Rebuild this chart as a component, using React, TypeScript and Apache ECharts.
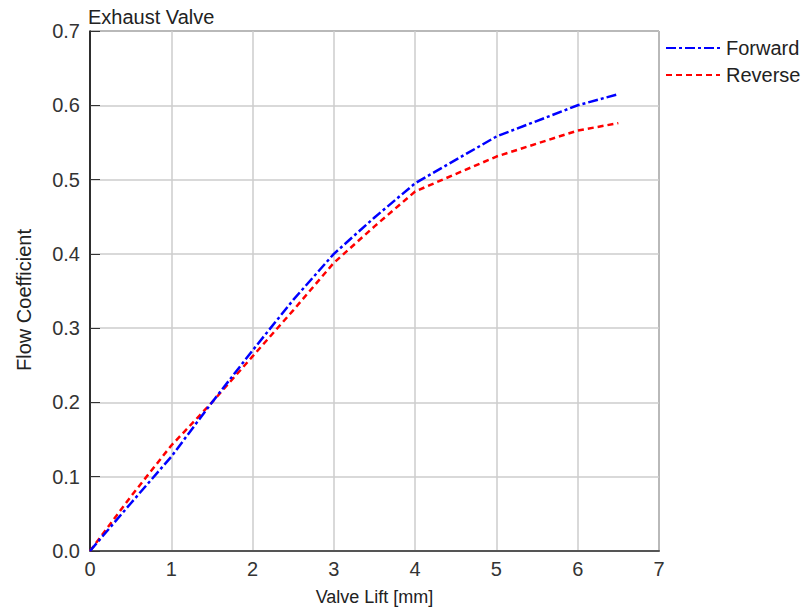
import React, { useEffect, useRef } from "react";
import * as echarts from "echarts";

// Valve lift sample positions [mm]
const liftMm = [0, 0.5, 1, 1.5, 2, 2.5, 3, 3.5, 4, 5, 6, 6.5];
// Flow coefficient, forward flow direction
const forwardCf = [0, 0.064, 0.127, 0.2, 0.27, 0.338, 0.4, 0.449, 0.495, 0.558, 0.6, 0.615];
// Flow coefficient, reverse flow direction
const reverseCf = [0, 0.073, 0.142, 0.2, 0.262, 0.324, 0.388, 0.437, 0.484, 0.531, 0.566, 0.576];

const seriesNames = ["Forward", "Reverse"];
const chartTitle = "Exhaust Valve";
const xAxisTitle = "Valve Lift [mm]";
const yAxisTitle = "Flow Coefficient";

const FONT = "'Liberation Sans', Arial, sans-serif";

export default function App() {
  const ref = useRef<HTMLDivElement>(null);

  useEffect(() => {
    if (!ref.current) return;
    const chart = echarts.init(ref.current, undefined, { renderer: "svg" });
    const pair = (ys: number[]) => liftMm.map((x, i) => [x, ys[i]]);

    chart.setOption({
      animation: false,
      backgroundColor: "#ffffff",
      textStyle: { fontFamily: FONT },
      title: {
        text: chartTitle,
        left: 88,
        top: 7,
        padding: 0,
        textStyle: { fontFamily: FONT, fontSize: 20, fontWeight: "normal", color: "#222" },
      },
      legend: {
        orient: "vertical",
        left: 665,
        top: 38,
        padding: 0,
        itemGap: 7,
        itemWidth: 54,
        itemHeight: 14,
        data: seriesNames,
        itemStyle: { opacity: 0 },
        textStyle: { fontFamily: FONT, fontSize: 20, color: "#222", padding: [0, 0, 0, 1] },
      },
      grid: {
        left: 90,
        right: 147,
        top: 31,
        bottom: 60,
        show: true,
        borderColor: "#000",
        borderWidth: 1,
      },
      xAxis: {
        type: "value",
        min: 0,
        max: 7,
        interval: 1,
        name: xAxisTitle,
        nameLocation: "middle",
        nameGap: 37,
        nameTextStyle: { fontFamily: FONT, fontSize: 18, color: "#222" },
        axisLine: { show: true, lineStyle: { color: "#555", width: 2 } },
        axisTick: { show: false },
        axisLabel: { fontFamily: FONT, fontSize: 20, color: "#333", margin: 8 },
        splitLine: { show: true, lineStyle: { color: "#cccccc", width: 1.5 } },
      },
      yAxis: {
        type: "value",
        min: 0,
        max: 0.7,
        interval: 0.1,
        name: yAxisTitle,
        nameLocation: "middle",
        nameRotate: 90,
        nameGap: 56,
        nameTextStyle: { fontFamily: FONT, fontSize: 20, color: "#222", padding: [0, 18, 0, 0] },
        axisLine: { show: true, lineStyle: { color: "#000", width: 1.5 } },
        axisTick: { show: true, inside: true, length: 10, lineStyle: { color: "#333", width: 1 } },
        axisLabel: {
          fontFamily: FONT,
          fontSize: 20,
          color: "#333",
          margin: 10,
          formatter: (v: number) => v.toFixed(1),
        },
        splitLine: { show: true, lineStyle: { color: "#cccccc", width: 1.5 } },
      },
      series: [
        {
          name: seriesNames[0],
          type: "line",
          data: pair(forwardCf),
          showSymbol: false,
          symbol: "none",
          color: "#0000ff",
          lineStyle: { color: "#0000ff", width: 2.5, type: [10, 3, 3, 3] },
          z: 3,
        },
        {
          name: seriesNames[1],
          type: "line",
          data: pair(reverseCf),
          showSymbol: false,
          symbol: "none",
          color: "#ff0000",
          lineStyle: { color: "#ff0000", width: 2.5, type: [6, 4] },
          z: 2,
        },
      ],
    });

    return () => chart.dispose();
  }, []);

  return <div ref={ref} style={{ width: 806, height: 611, position: "absolute", left: 0, top: 0 }} />;
}
